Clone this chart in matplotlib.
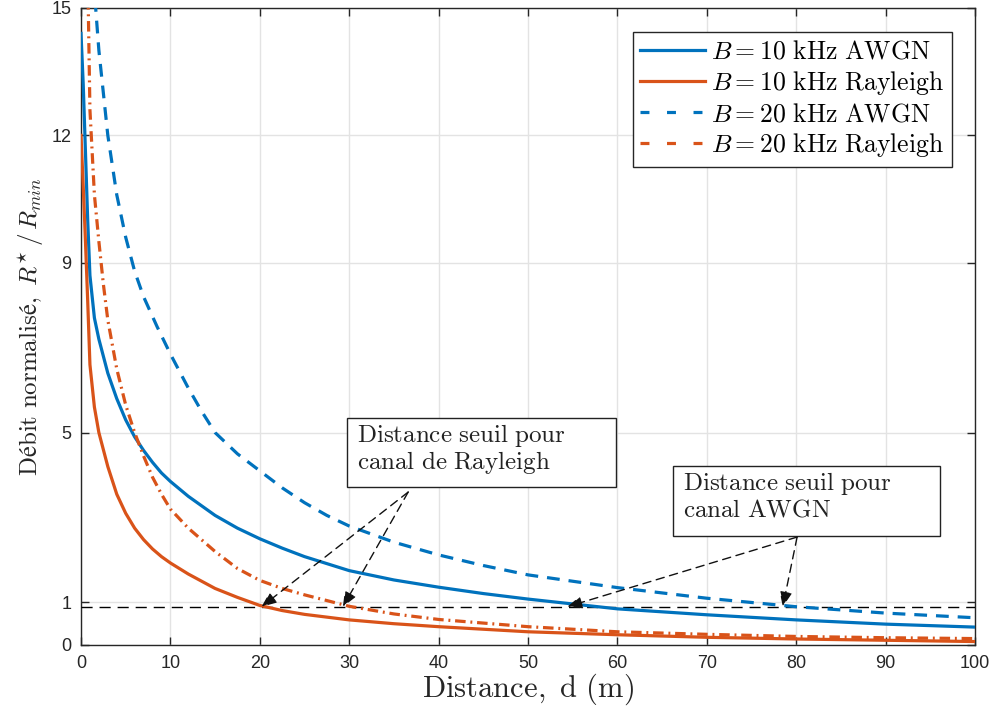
import numpy as np
import matplotlib
matplotlib.use("Agg")
import matplotlib.pyplot as plt
from matplotlib.lines import Line2D
from matplotlib.patches import Rectangle

plt.rcParams["mathtext.fontset"] = "cm"
plt.rcParams["font.family"] = ["Liberation Sans", "DejaVu Sans"]

BLUE = "#0072BD"
ORANGE = "#D95319"

# --- data ---
d_awgn10 = [0, 0.25, 0.5, 0.75, 1, 1.5, 2, 3, 4, 5, 6, 7, 8, 9, 10, 12, 15, 17.5,
            20, 22.5, 25, 30, 35, 40, 45, 50, 60, 70, 80, 90, 100]
r_awgn10 = [14.4, 13.2, 11.6, 10.0, 8.7, 7.7, 7.2, 6.4, 5.8, 5.3, 4.9, 4.58, 4.3,
            4.05, 3.85, 3.5, 3.05, 2.75, 2.5, 2.28, 2.08, 1.75, 1.53, 1.36, 1.21,
            1.08, 0.85, 0.71, 0.59, 0.49, 0.42]

d_ray10 = [0, 0.25, 0.5, 0.75, 1, 1.5, 2, 3, 4, 5, 6, 7, 8, 9, 10, 12, 15, 17.5,
           20, 22.5, 25, 30, 35, 40, 50, 60, 70, 80, 90, 100]
r_ray10 = [12, 10.8, 9.5, 8.1, 6.6, 5.6, 5.0, 4.2, 3.55, 3.1, 2.75, 2.48, 2.26,
           2.08, 1.93, 1.67, 1.33, 1.12, 0.93, 0.81, 0.72, 0.59, 0.5, 0.43, 0.31,
           0.24, 0.18, 0.14, 0.11, 0.08]

d_awgn20 = [1, 1.64, 2, 3, 4, 5, 6, 7, 8.5, 10, 12, 13.5, 15, 17.5, 20, 22.5, 25,
            27.5, 30, 35, 40, 45, 50, 55, 60, 70, 80, 90, 100]
r_awgn20 = [17.5, 15, 14.0, 12, 10.6, 9.6, 8.8, 8.2, 7.5, 6.85, 6.05, 5.5, 5.0,
            4.5, 4.1, 3.7, 3.35, 3.05, 2.8, 2.42, 2.12, 1.87, 1.65, 1.5, 1.35,
            1.1, 0.9, 0.75, 0.64]

d_ray20 = [0.6, 0.8, 1, 1.5, 2, 2.5, 3, 4, 5, 6, 7, 8, 9, 10, 12, 15, 17.5, 20,
           22.5, 25, 30, 35, 40, 50, 60, 70, 80, 90, 100]
r_ray20 = [17.6, 15.2, 12.6, 10.6, 9.5, 8.5, 7.65, 6.5, 5.65, 5.0, 4.45, 3.95,
           3.55, 3.2, 2.75, 2.2, 1.8, 1.52, 1.33, 1.18, 0.91, 0.73, 0.6, 0.43,
           0.31, 0.25, 0.2, 0.17, 0.15]

labels = [r"$B = 10\ \mathrm{kHz\ AWGN}$",
          r"$B = 10\ \mathrm{kHz\ Rayleigh}$",
          r"$B = 20\ \mathrm{kHz\ AWGN}$",
          r"$B = 20\ \mathrm{kHz\ Rayleigh}$"]

threshold = 0.9
x_ticks = list(range(0, 101, 10))
y_ticks = [0, 1, 5, 9, 12, 15]

# annotation layout (data coords)
box_ray = (29.8, 3.72, 30.0, 1.63)
box_awgn = (66.2, 2.57, 29.9, 1.64)
tail_ray = (36.6, 3.6)
heads_ray = [(20.2, threshold), (29.3, threshold)]
tail_awgn = (80.1, 2.54)
heads_awgn = [(54.4, threshold), (78.5, threshold)]


def cm(s):
    return r"$\mathrm{" + s.replace(" ", r"\ ") + "}$"


fig = plt.figure(figsize=(9.95, 7.19), dpi=100)
ax = fig.add_axes([0.0814, 0.103, 0.8985, 0.886])

lw = 2.3
ax.plot(d_awgn10, r_awgn10, color=BLUE, lw=lw, zorder=4)
ax.plot(d_ray10, r_ray10, color=ORANGE, lw=lw, zorder=4)
ax.plot(d_awgn20, r_awgn20, color=BLUE, lw=lw, dashes=(4.0, 2.8), zorder=4)
ax.plot(d_ray20, r_ray20, color=ORANGE, lw=lw, dashes=(3.3, 1.5, 0.6, 1.5), zorder=4)

# threshold line
ax.axhline(threshold, color="black", lw=1.0, dashes=(8, 5), zorder=3)

# text boxes + arrows
for (x0, y0, w, h), txt in [(box_ray, "Distance seuil pour\ncanal de Rayleigh"),
                            (box_awgn, "Distance seuil pour\ncanal AWGN")]:
    ax.add_patch(Rectangle((x0, y0), w, h, facecolor="white", edgecolor="#222222",
                           lw=1.0, zorder=6))
    lines = txt.split("\n")
    ax.text(x0 + 1.1, y0 + h - 0.1, cm(lines[0]) + "\n" + cm(lines[1]),
            fontsize=18, va="top", ha="left", color="#222222", zorder=7,
            linespacing=1.0)

for tail, heads in [(tail_ray, heads_ray), (tail_awgn, heads_awgn)]:
    for head in heads:
        ax.annotate("", xy=head, xytext=tail, zorder=7,
                    arrowprops=dict(arrowstyle="-|>,head_length=0.9,head_width=0.38",
                                    linestyle=(0, (6, 4)), color="#111111",
                                    lw=1.0, shrinkA=0, shrinkB=0))

ax.set_xlim(0, 100)
ax.set_ylim(0, 15)
ax.set_xticks(x_ticks)
ax.set_yticks(y_ticks)
ax.grid(True, color="#e3e3e3", lw=1.0, zorder=0)
ax.set_axisbelow(True)
ax.tick_params(direction="in", length=6, width=1.0, top=True, right=True,
               labelsize=13, colors="#262626", pad=7)
for spine in ax.spines.values():
    spine.set_edgecolor("#262626")
    spine.set_linewidth(1.0)

ax.set_xlabel(cm("Distance, d (m)"), fontsize=22, color="#262626", labelpad=0)
ax.set_ylabel(r"$\mathrm{Débit\ normalisé,}\ R^{\star}\,/\,R_{min}$",
              fontsize=18, color="#262626", labelpad=4)

handles = [Line2D([], [], color=BLUE, lw=lw),
           Line2D([], [], color=ORANGE, lw=lw),
           Line2D([], [], color=BLUE, lw=lw, dashes=(2.8, 5.5)),
           Line2D([], [], color=ORANGE, lw=lw, dashes=(2.8, 5.5))]
leg = ax.legend(handles, labels, loc="upper right", bbox_to_anchor=(0.974, 0.962),
                borderaxespad=0, fontsize=18.5, handlelength=2.5, handletextpad=0.25,
                labelspacing=0.2, fancybox=False, framealpha=1,
                edgecolor="#262626", borderpad=0.3)
leg.get_frame().set_linewidth(1.0)
leg.set_zorder(8)

fig.savefig("out.png", dpi=100)
